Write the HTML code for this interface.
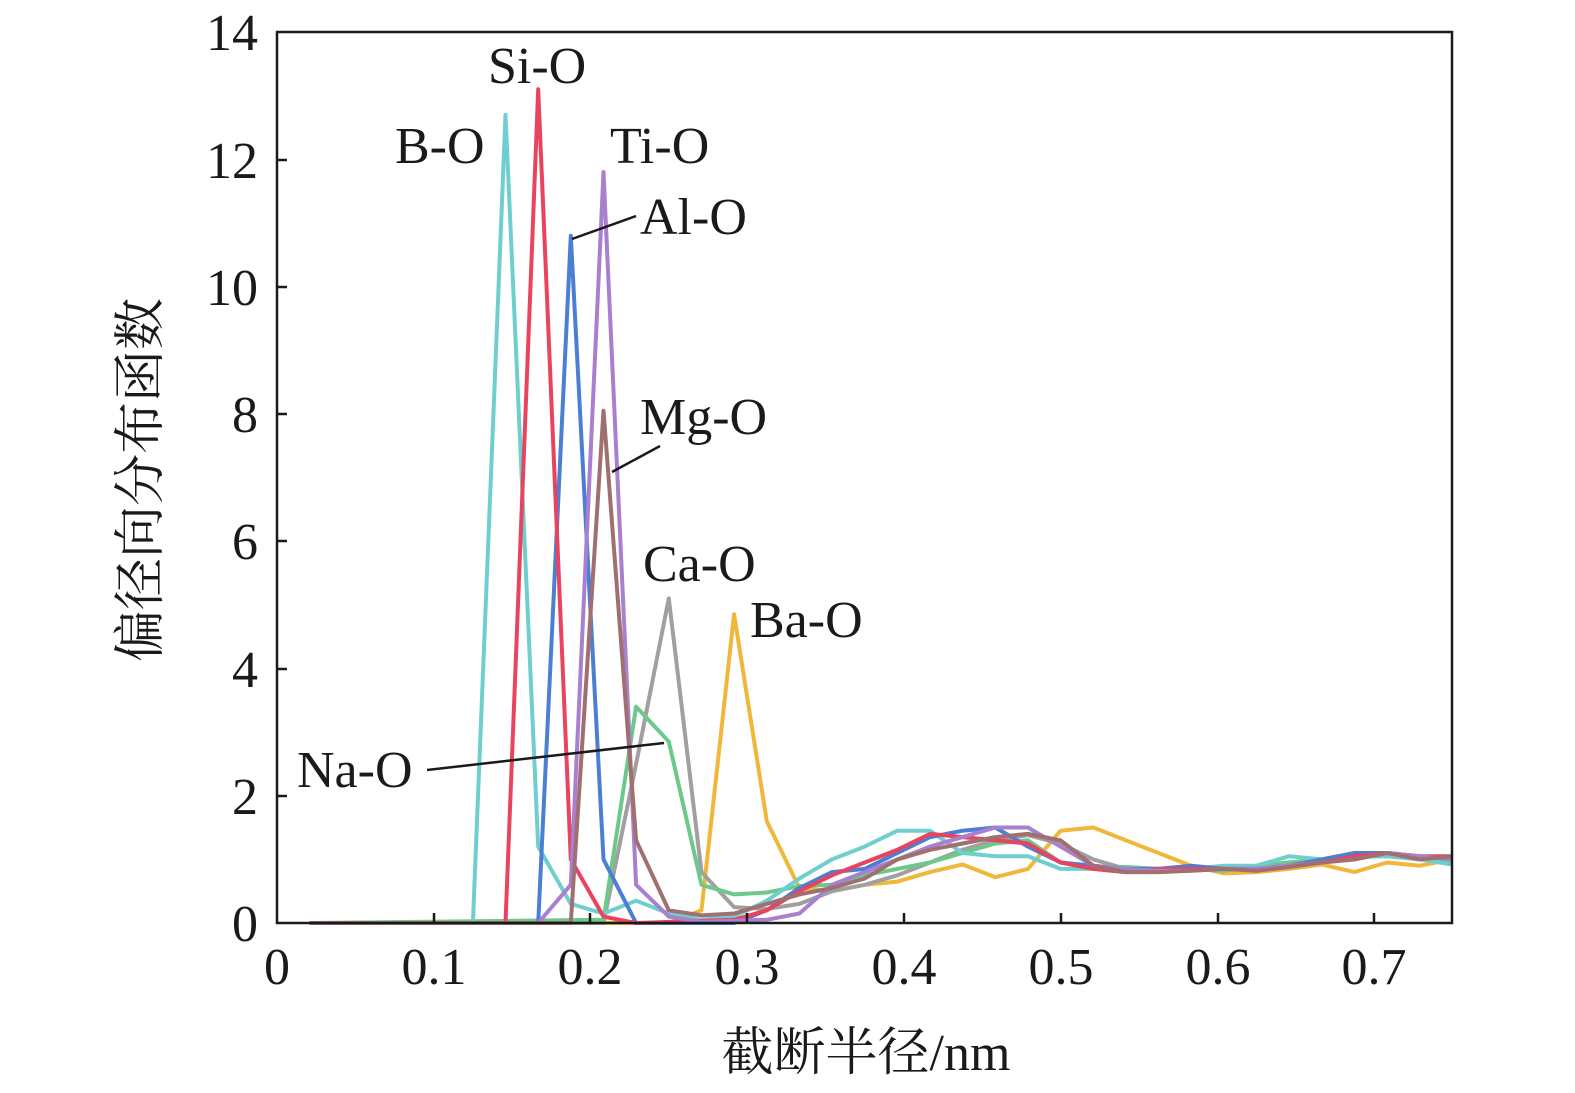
<!DOCTYPE html>
<html><head><meta charset="utf-8"><style>
body{margin:0;background:#fff;overflow:hidden}
svg{display:block}
svg text{font-family:"Liberation Serif","Noto Serif CJK SC",serif;fill:#1a1a1a}
</style></head><body>
<svg width="1575" height="1093" viewBox="0 0 1575 1093" xmlns="http://www.w3.org/2000/svg">
<g id="lines" fill="none" stroke-width="4" stroke-linejoin="round"></g>
<rect x="277" y="32" width="1175" height="891" fill="none" stroke="#1a1a1a" stroke-width="2.5"/>
<g stroke="#1a1a1a" stroke-width="2.5">
<line x1="434" y1="923" x2="434" y2="913"/><line x1="590" y1="923" x2="590" y2="913"/><line x1="747" y1="923" x2="747" y2="913"/><line x1="904" y1="923" x2="904" y2="913"/><line x1="1061" y1="923" x2="1061" y2="913"/><line x1="1218" y1="923" x2="1218" y2="913"/><line x1="1374" y1="923" x2="1374" y2="913"/>
<line x1="277" y1="796" x2="287" y2="796"/><line x1="277" y1="669" x2="287" y2="669"/><line x1="277" y1="541" x2="287" y2="541"/><line x1="277" y1="414" x2="287" y2="414"/><line x1="277" y1="287" x2="287" y2="287"/><line x1="277" y1="160" x2="287" y2="160"/>
</g>
<g font-size="52" text-anchor="end">
<text x="258" y="941">0</text><text x="258" y="814">2</text><text x="258" y="687">4</text><text x="258" y="559">6</text><text x="258" y="432">8</text><text x="258" y="305">10</text><text x="258" y="178">12</text><text x="258" y="50">14</text>
</g>
<g font-size="52" text-anchor="middle">
<text x="277" y="984">0</text><text x="434" y="984">0.1</text><text x="590" y="984">0.2</text><text x="747" y="984">0.3</text><text x="904" y="984">0.4</text><text x="1061" y="984">0.5</text><text x="1218" y="984">0.6</text><text x="1374" y="984">0.7</text>
<text x="866" y="1070">截断半径/nm</text>
</g>
<text font-size="52" text-anchor="middle" transform="translate(158,480) rotate(-90)">偏径向分布函数</text>
<g font-size="52">
<text x="488" y="83">Si-O</text><text x="395" y="163">B-O</text><text x="610" y="163">Ti-O</text><text x="640" y="234">Al-O</text><text x="640" y="434">Mg-O</text><text x="643" y="581">Ca-O</text><text x="750" y="637">Ba-O</text><text x="297" y="787">Na-O</text>
</g>
<g stroke="#1a1a1a" stroke-width="2.5">
<line x1="572" y1="239" x2="636" y2="216"/><line x1="612" y1="472" x2="660" y2="446"/><line x1="427" y1="770" x2="664" y2="743"/>
</g>
<script>
const d={
"#f0b83a":[[0,0],[12,0],[13,0.2],[14,4.85],[15,1.6],[16,0.55],[17,0.5],[18,0.6],[19,0.65],[20,0.8],[21,0.92],[22,0.72],[23,0.85],[24,1.45],[25,1.5],[26,1.3],[27,1.1],[28,0.9],[29,0.78],[30,0.8],[31,0.85],[32,0.92],[33,0.8],[34,0.95],[35,0.9],[36,1.0]],
"#a0a0a0":[[0,0],[10,0],[11,2.5],[12,5.1],[13,0.8],[14,0.25],[15,0.22],[16,0.3],[17,0.5],[18,0.6],[19,0.75],[20,0.95],[21,1.15],[22,1.3],[23,1.38],[24,1.25],[25,1.0],[26,0.85],[27,0.82],[28,0.85],[29,0.85],[30,0.9],[31,0.95],[32,1.0],[33,1.05],[34,1.05],[35,1.0],[36,0.98]],
"#6cc98a":[[0,0],[10,0.05],[11,3.4],[12,2.85],[13,0.6],[14,0.45],[15,0.48],[16,0.58],[17,0.6],[18,0.75],[19,0.85],[20,0.95],[21,1.1],[22,1.25],[23,1.3],[24,0.95],[25,0.88],[26,0.88],[27,0.85],[28,0.85],[29,0.82],[30,0.9],[31,0.95],[32,1.0],[33,1.05],[34,1.1],[35,1.0],[36,0.97]],
"#6fcfd0":[[1,0],[6,0],[7,12.7],[8,1.2],[9,0.3],[10,0.15],[11,0.35],[12,0.15],[13,0.05],[14,0.1],[15,0.35],[16,0.7],[17,1.0],[18,1.2],[19,1.45],[20,1.45],[21,1.1],[22,1.05],[23,1.05],[24,0.85],[25,0.85],[26,0.8],[27,0.8],[28,0.85],[29,0.9],[30,0.9],[31,1.05],[32,1.0],[33,1.05],[34,1.05],[35,1.0],[36,0.92]],
"#4a7fd4":[[0,0],[8,0],[9,10.8],[10,1.0],[11,0],[14,0],[15,0.2],[16,0.55],[17,0.8],[18,0.85],[19,1.1],[20,1.35],[21,1.45],[22,1.5],[23,1.2],[24,0.95],[25,0.9],[26,0.85],[27,0.85],[28,0.9],[29,0.85],[30,0.85],[31,0.9],[32,1.0],[33,1.1],[34,1.1],[35,1.05],[36,1.0]],
"#e8445f":[[0,0],[7,0],[8,13.1],[9,1.0],[10,0.1],[11,0],[14,0.05],[15,0.2],[16,0.5],[17,0.75],[18,0.95],[19,1.15],[20,1.4],[21,1.35],[22,1.3],[23,1.25],[24,0.95],[25,0.85],[26,0.8],[27,0.85],[28,0.85],[29,0.85],[30,0.85],[31,0.9],[32,0.95],[33,1.05],[34,1.1],[35,1.05],[36,1.05]],
"#a97fd0":[[1,0],[8,0],[9,0.6],[10,11.8],[11,0.6],[12,0.1],[13,0.02],[15,0.05],[16,0.15],[17,0.6],[18,0.8],[19,1.0],[20,1.2],[21,1.35],[22,1.5],[23,1.5],[24,1.2],[25,0.9],[26,0.85],[27,0.82],[28,0.82],[29,0.85],[30,0.85],[31,0.9],[32,0.95],[33,1.0],[34,1.1],[35,1.05],[36,1.0]],
"#a07070":[[1,0],[9,0],[10,8.05],[11,1.3],[12,0.2],[13,0.12],[14,0.15],[15,0.3],[16,0.45],[17,0.55],[18,0.7],[19,1.0],[20,1.15],[21,1.25],[22,1.35],[23,1.4],[24,1.3],[25,0.9],[26,0.8],[27,0.8],[28,0.82],[29,0.85],[30,0.82],[31,0.88],[32,0.95],[33,1.0],[34,1.1],[35,1.0],[36,1.05]]};
const g=document.getElementById('lines');
for(const c in d){const p=document.createElementNS('http://www.w3.org/2000/svg','polyline');
p.setAttribute('points',d[c].map(([k,v])=>[(277+32.65*k+(k==0?33:0)).toFixed(1),(923-63.64*v).toFixed(1)].join(',')).join(' '));
p.setAttribute('stroke',c);g.appendChild(p);}
</script>
</svg>
</body></html>
